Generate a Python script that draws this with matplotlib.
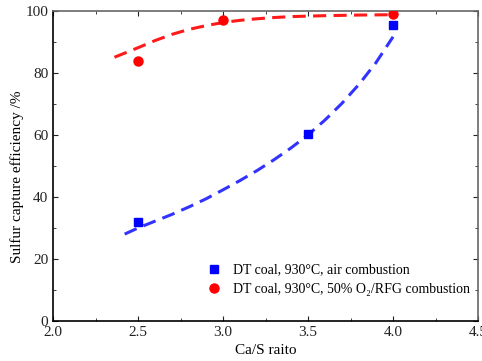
import matplotlib
matplotlib.use("Agg")
import matplotlib.pyplot as plt
from matplotlib.ticker import MultipleLocator, FormatStrFormatter

# measured points
ca_s = [2.5, 3.5, 4.0]
eff_air = [31.8, 60.2, 95.4]
ca_s_oxy = [2.5, 3.0, 4.0]
eff_oxy = [83.7, 97.0, 98.9]

# fitted trend lines
fit_air_x = [2.42, 2.5, 2.6, 2.7, 2.8, 2.9, 3.0, 3.1, 3.2, 3.3, 3.4, 3.5,
             3.6, 3.7, 3.8, 3.9, 4.0]
fit_air_y = [28.0, 30.0, 32.2, 34.4, 36.8, 39.4, 42.3, 45.3, 48.5, 52.0, 55.8,
             60.0, 64.8, 70.2, 76.3, 83.3, 91.6]
fit_oxy_x = [2.36, 2.5, 2.6, 2.7, 2.8, 2.9, 3.0, 3.1, 3.2, 3.3, 3.4, 3.6, 3.8, 4.0]
fit_oxy_y = [85.0, 88.1, 90.4, 92.4, 94.0, 95.2, 96.2, 96.9, 97.4, 97.8, 98.1,
             98.4, 98.6, 98.7]

plt.rcParams['font.family'] = 'Liberation Serif'
plt.rcParams['font.size'] = 11

fig = plt.figure(figsize=(4.82, 3.61), dpi=100)
ax = fig.add_axes([53.3 / 482, 40 / 361, (478 - 53.3) / 482, (321 - 10.7) / 361])

dash = (0, (4.3, 2.4))
ax.plot(fit_air_x, fit_air_y, color='#3333ff', ls=dash, lw=2.2, zorder=2)
ax.plot(fit_oxy_x, fit_oxy_y, color='#ff1a1a', ls=dash, lw=2.2, zorder=2)
ax.plot(ca_s, eff_air, 's', color='#0000ff', ms=5.5, ls='none', zorder=3,
        label='DT coal, 930\u00b0C, air combustion')
ax.plot(ca_s_oxy, eff_oxy, 'o', color='#ff0000', ms=6.5, ls='none', zorder=3,
        label='DT coal, 930\u00b0C, 50% O\u2082/RFG combustion')

ax.set_xlim(2.0, 4.5)
ax.set_ylim(0, 100)
ax.xaxis.set_major_locator(MultipleLocator(0.5))
ax.xaxis.set_minor_locator(MultipleLocator(0.25))
ax.yaxis.set_major_locator(MultipleLocator(20))
ax.yaxis.set_minor_locator(MultipleLocator(10))
ax.xaxis.set_major_formatter(FormatStrFormatter('%.1f'))
ax.tick_params(which='both', direction='in', top=True, right=True,
               labeltop=False, labelright=False, colors='#222222', labelsize=11)
ax.tick_params(which='major', length=3.5)
ax.tick_params(which='minor', length=2)

for side in ['left', 'bottom']:
    ax.spines[side].set_color('black')
    ax.spines[side].set_linewidth(1.2)
for side in ['top', 'right']:
    ax.spines[side].set_color('#666666')
    ax.spines[side].set_linewidth(1.2)

ax.set_xlabel('Ca/S raito', labelpad=4)
ax.set_ylabel('Sulfur capture efficiency /%')
ax.yaxis.set_label_coords(-0.069, 0.464)

ax.legend(loc='upper left', bbox_to_anchor=(0.329, 0.225), frameon=False,
          fontsize=10, handletextpad=0.8, labelspacing=0.45, handlelength=1.2)

fig.savefig('out.png', dpi=100)
